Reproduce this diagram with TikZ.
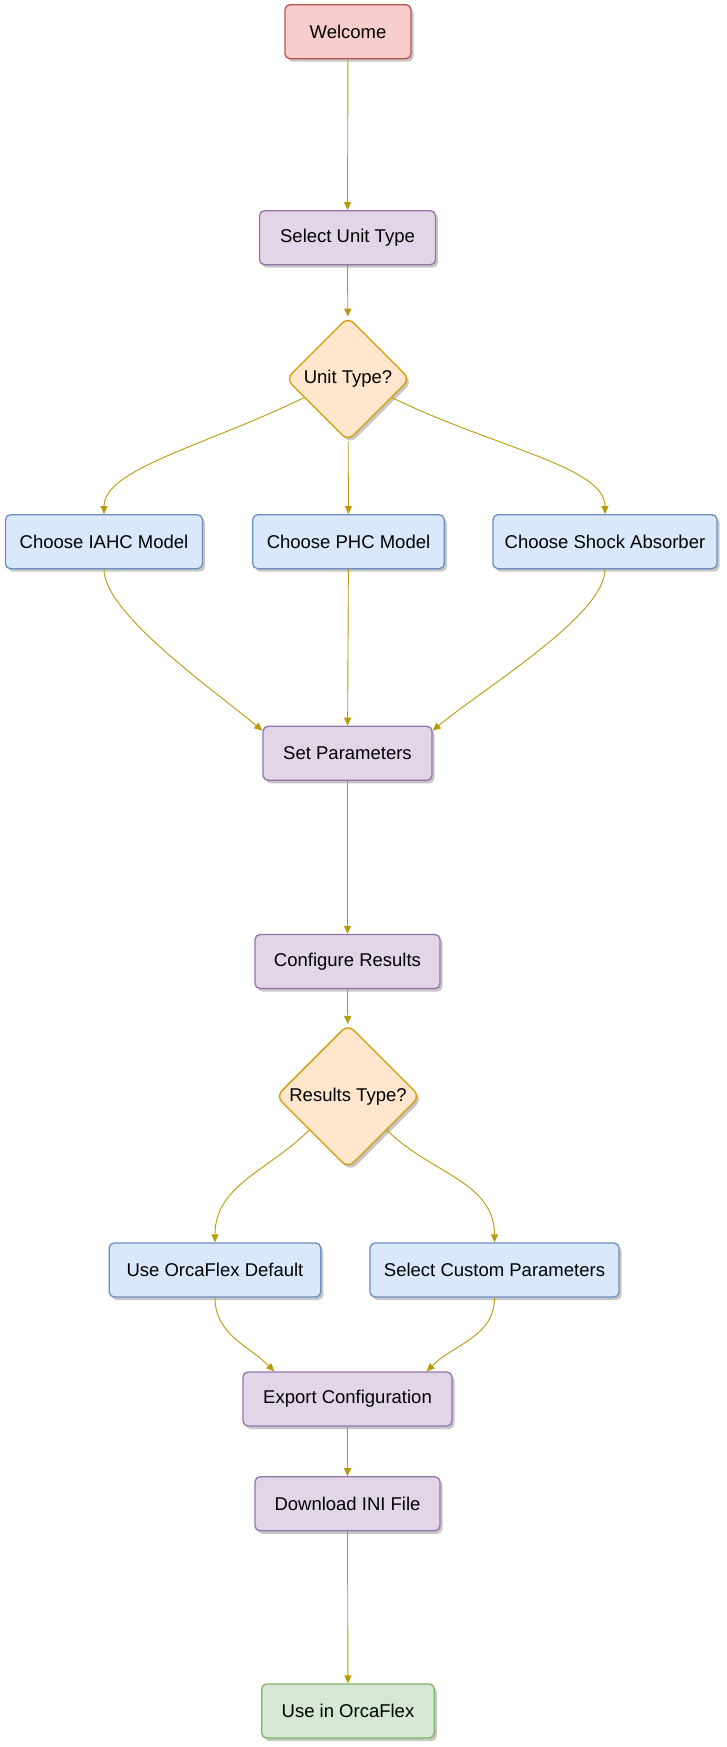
\documentclass[tikz,border=0pt]{standalone}
\usepackage{fontspec}
\setmainfont{Liberation Sans}
\usetikzlibrary{shapes.geometric,arrows.meta,shadows}
\definecolor{redfill}{HTML}{F8CECC}
\definecolor{redline}{HTML}{B85450}
\definecolor{purfill}{HTML}{E1D5E7}
\definecolor{purline}{HTML}{9673A6}
\definecolor{bluefill}{HTML}{DAE8FC}
\definecolor{blueline}{HTML}{6C8EBF}
\definecolor{orfill}{HTML}{FFE6CC}
\definecolor{orline}{HTML}{D79B00}
\definecolor{grfill}{HTML}{D5E8D4}
\definecolor{grline}{HTML}{82B366}
\definecolor{linkcol}{RGB}{184,154,10}
\begin{document}
\begin{tikzpicture}
  [x=1pt,y=1pt,font=\fontsize{18.5}{22}\selectfont,
   shade/.style={drop shadow={shadow xshift=2.5pt,shadow yshift=-3pt,opacity=.22,fill=black}},
   box/.style={draw,rounded corners=5pt,line width=1.3pt,inner sep=0pt,
     minimum height=54pt,shade},
   startbox/.style={box,fill=redfill,draw=redline},
   stepbox/.style={box,fill=purfill,draw=purline},
   optbox/.style={box,fill=bluefill,draw=blueline},
   endbox/.style={box,fill=grfill,draw=grline},
   choice/.style={diamond,aspect=1,inner sep=0pt,rounded corners=8pt,
     line width=1.3pt,fill=orfill,draw=orline,shade},
   link/.style={draw=linkcol,line width=0.9pt,-{Triangle[length=8pt,width=7pt]}}]
  \useasboundingbox (0,0) rectangle (726,-1747);

  \node[startbox,minimum width=126pt] (welcome) at (348,-31.7) {Welcome};
  \node[stepbox,minimum width=176pt] (unit) at (347.5,-237.7) {Select Unit Type};
  \node[choice,minimum width=124pt,minimum height=124pt] (ut) at (348,-379) {Unit Type?};
  \node[optbox,minimum width=197pt] (iahc) at (104,-541.7) {Choose IAHC Model};
  \node[optbox,minimum width=191.5pt] (phc) at (348.5,-541.7) {Choose PHC Model};
  \node[optbox,minimum width=224pt] (shock) at (605,-541.7) {Choose Shock Absorber};
  \node[stepbox,minimum width=169pt] (sp) at (347.5,-753.3) {Set Parameters};
  \node[stepbox,minimum width=185pt] (cr) at (347.5,-961.5) {Configure Results};
  \node[choice,minimum width=144pt,minimum height=144pt] (rt) at (348,-1096.3) {Results Type?};
  \node[optbox,minimum width=211.6pt] (default) at (215,-1270) {Use OrcaFlex Default};
  \node[optbox,minimum width=249pt] (custom) at (494.5,-1270) {Select Custom Parameters};
  \node[stepbox,minimum width=209pt] (ex) at (347.5,-1399) {Export Configuration};
  \node[stepbox,minimum width=185pt] (ini) at (347.5,-1503.8) {Download INI File};
  \node[endbox,minimum width=172.6pt] (use) at (348,-1711) {Use in OrcaFlex};

  \draw[link] (welcome) -- (unit);
  \draw[link] (unit) -- (ut);
  \draw[link] (ut.-157) to[out=206,in=90,out looseness=1.2,in looseness=.5] (iahc.north);
  \draw[link] (ut) -- (phc);
  \draw[link] (ut.-23) to[out=-26,in=90,out looseness=1.2,in looseness=.5] (shock.north);
  \draw[link] (iahc.south) to[out=-90,in=140,out looseness=.5,in looseness=.7] ([yshift=-5pt]sp.north west);
  \draw[link] (phc) -- (sp);
  \draw[link] (shock.south) to[out=-90,in=40,out looseness=.5,in looseness=.7] ([yshift=-5pt]sp.north east);
  \draw[link] (sp) -- (cr);
  \draw[link] (cr) -- (rt);
  \draw[link] (rt.-139) to[out=-135,in=90] (default.north);
  \draw[link] (rt.-41) to[out=-45,in=90] (custom.north);
  \draw[link] (default.south) to[out=-90,in=135] ([xshift=32pt]ex.north west);
  \draw[link] (custom.south) to[out=-90,in=45] ([xshift=-26pt]ex.north east);
  \draw[link] (ex) -- (ini);
  \draw[link] (ini) -- (use);

\end{tikzpicture}
\end{document}
